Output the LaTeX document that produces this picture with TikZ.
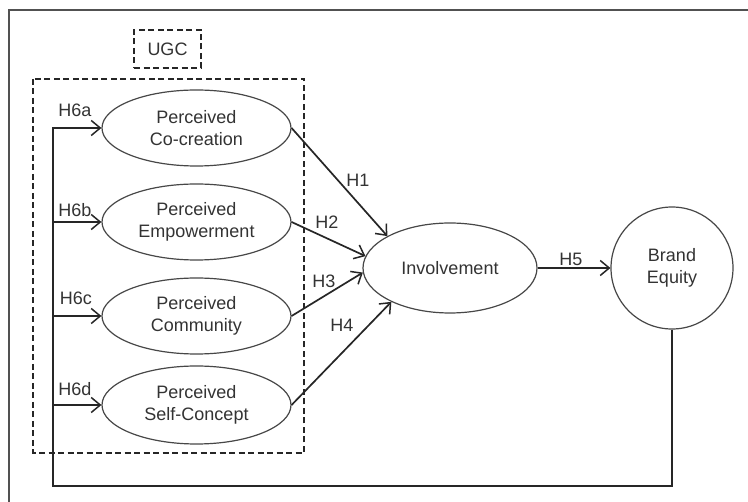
\documentclass[tikz,border=0pt]{standalone}
\usepackage{fontspec}
\setmainfont{Liberation Sans}
\usetikzlibrary{shapes.geometric,arrows.meta}

\definecolor{ink}{HTML}{262626}
\definecolor{txt}{HTML}{333333}

\tikzset{
  lbl/.style={font=\fontsize{18}{22}\selectfont, text=txt, inner sep=0pt},
  construct/.style={ellipse, draw=ink!85, line width=1.2pt, align=center,
    font=\fontsize{18}{22}\selectfont, text=txt, inner sep=0pt},
  link/.style={draw=ink, line width=1.7pt, -{Straight Barb[length=9pt,width=15pt,line width=1.5pt]}},
  plain/.style={draw=ink, line width=1.7pt},
  group/.style={draw=ink, line width=1.8pt, dash pattern=on 6pt off 3.5pt},
}

\begin{document}
\begin{tikzpicture}[x=1pt, y=-1pt]
  \useasboundingbox (0,0) rectangle (748,502);
  \fill[white] (0,0) rectangle (748,502);

  % frame (top and left edges only)
  \draw[ink!80, line width=1.5pt] (748,10) -- (9,10) -- (9,502);

  % UGC group
  \node[group, minimum width=67pt, minimum height=38pt, inner sep=0pt,
        font=\fontsize{18}{22}\selectfont, text=txt] (ugc) at (167.5,49) {UGC};
  \draw[group] (33,79) rectangle (304,453);

  % constructs
  \node[construct, minimum width=189pt, minimum height=76pt] (cc) at (196.5,128) {Perceived\\Co-creation};
  \node[construct, minimum width=189pt, minimum height=76pt] (em) at (196.5,222) {Perceived\\Empowerment};
  \node[construct, minimum width=189pt, minimum height=76pt] (cm) at (196.5,316) {Perceived\\Community};
  \node[construct, minimum width=189pt, minimum height=78pt] (sc) at (196.5,405) {Perceived\\Self-Concept};
  \node[construct, minimum width=174pt, minimum height=90pt] (inv) at (450,268) {Involvement};
  \node[construct, circle, minimum size=122pt] (be) at (672,268) {Brand\\Equity};

  % paths into Involvement
  \draw[link] (cc.east) -- (inv.153);
  \draw[link] (em.east) -- (inv.172);
  \draw[link] (cm.east) -- (inv.183);
  \draw[link] (sc.east) -- (inv.210);
  \draw[link] (inv.east) -- (be.west);

  \node[lbl] (h1) at (358,180) {H1};
  \node[lbl] (h2) at (327,222) {H2};
  \node[lbl] (h3) at (324,281) {H3};
  \node[lbl] (h4) at (342,325) {H4};
  \node[lbl] (h5) at (571,259) {H5};

  % feedback from Brand Equity
  \coordinate (fb) at (53,486);
  \draw[link] (be.south) |- (fb) |- (cc.west);
  \draw[link] (fb |- em.west) -- (em.west);
  \draw[link] (fb |- cm.west) -- (cm.west);
  \draw[link] (fb |- sc.west) -- (sc.west);

  \node[lbl] (h6a) at (75,110) {H6a};
  \node[lbl] (h6b) at (75,210) {H6b};
  \node[lbl] (h6c) at (76,298) {H6c};
  \node[lbl] (h6d) at (75,389) {H6d};
\end{tikzpicture}
\end{document}
